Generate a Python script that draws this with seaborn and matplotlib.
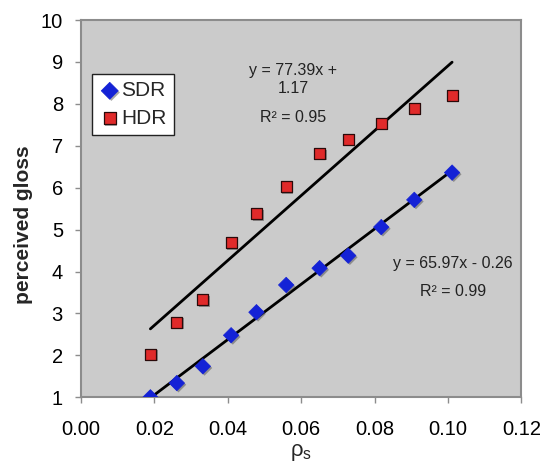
import numpy as np
import pandas as pd
import matplotlib
matplotlib.use("Agg")
import matplotlib.pyplot as plt
import matplotlib.patheffects as pe
import seaborn as sns

# Specular reflectance of the samples and the mean perceived gloss ratings
rho_s = [0.0189, 0.0261, 0.0332, 0.0409, 0.0478, 0.0559, 0.0650, 0.0728, 0.0818, 0.0908, 0.1011]
gloss_sdr = [1.00, 1.34, 1.74, 2.48, 3.03, 3.68, 4.08, 4.38, 5.06, 5.71, 6.36]
gloss_hdr = [2.03, 2.79, 3.33, 4.69, 5.38, 6.02, 6.82, 7.16, 7.54, 7.90, 8.21]

# Linear trend lines: slope, intercept, R^2
fit_sdr = (65.97, -0.26, 0.99)
fit_hdr = (77.39, 1.17, 0.95)

x_ticks = [0.00, 0.02, 0.04, 0.06, 0.08, 0.10, 0.12]
y_ticks = [1, 2, 3, 4, 5, 6, 7, 8, 9, 10]

sns.set_style("white")
plt.rcParams["font.family"] = ["Liberation Sans", "DejaVu Sans"]
plt.rcParams["mathtext.fontset"] = "custom"
plt.rcParams["mathtext.rm"] = "Liberation Sans"
plt.rcParams["mathtext.it"] = "Liberation Sans:italic"
plt.rcParams["mathtext.bf"] = "Liberation Sans:bold"

df = pd.DataFrame({
    "rho": rho_s * 2,
    "gloss": gloss_sdr + gloss_hdr,
    "display": ["SDR"] * len(rho_s) + ["HDR"] * len(rho_s),
})

fig = plt.figure(figsize=(5.44, 4.62), dpi=100)
ax = fig.add_axes([0.1489, 0.1400, 0.8097, 0.8167])
ax.set_facecolor("#cbcbcb")

shadow = [pe.SimplePatchShadow(offset=(1.2, -1.2), shadow_rgbFace="0.25", alpha=0.45), pe.Normal()]

sdr = df[df["display"] == "SDR"]
hdr = df[df["display"] == "HDR"]

# trend lines drawn over the measured range
xs = np.array([min(rho_s), max(rho_s)])
for slope, icpt, _ in (fit_hdr, fit_sdr):
    sns.lineplot(x=xs, y=slope * xs + icpt, color="black", linewidth=2.0, ax=ax, zorder=2)

sns.scatterplot(data=sdr, x="rho", y="gloss", marker="D", s=62, color="#1422d6",
                edgecolor="#1422d6", linewidth=0.5, label="SDR", ax=ax, zorder=3)
sns.scatterplot(data=hdr, x="rho", y="gloss", marker="s", s=62, color="#e02a2a",
                edgecolor="#2a0a0a", linewidth=0.9, label="HDR", ax=ax, zorder=3)
for coll in ax.collections:
    coll.set_path_effects(shadow)

ax.set_xlim(0.0, 0.12)
ax.set_ylim(1, 10)
ax.set_xticks(x_ticks)
ax.set_xticklabels([f"{v:.2f}" for v in x_ticks])
ax.set_yticks(y_ticks)
ax.set_yticklabels([str(v) for v in y_ticks])
ax.tick_params(axis="both", which="major", labelsize=14.5, colors="#8c8c8c",
               labelcolor="black", length=4.5, width=1.0, direction="out")
ax.tick_params(axis="x", pad=12)
ax.tick_params(axis="y", pad=8.5)
ax.xaxis.set_ticks_position("bottom")
ax.yaxis.set_ticks_position("left")
for sp in ax.spines.values():
    sp.set_visible(True)
    sp.set_color("#8c8c8c")
    sp.set_linewidth(1.5)

ax.set_xlabel(r"ρ$_\mathrm{s}$", fontsize=16, labelpad=2)
ax.set_ylabel("perceived gloss", fontsize=15, fontweight="bold")
ax.yaxis.set_label_coords(-0.109, 0.457)

def eq_text(fit):
    slope, icpt, _ = fit
    sign = "+" if icpt >= 0 else "-"
    return slope, icpt, sign

s, b, sg = eq_text(fit_hdr)
ax.text(0.0578, 8.58, f"y = {s:.2f}x {sg}\n{abs(b):.2f}", ha="center", va="center",
        fontsize=11.5, linespacing=1.3, color="#222222")
ax.text(0.0578, 7.68, f"R² = {fit_hdr[2]:.2f}", ha="center", va="center",
        fontsize=11.5, color="#222222")
s, b, sg = eq_text(fit_sdr)
ax.text(0.1013, 4.20, f"y = {s:.2f}x {sg} {abs(b):.2f}", ha="center", va="center",
        fontsize=11.5, color="#222222")
ax.text(0.1013, 3.53, f"R² = {fit_sdr[2]:.2f}", ha="center", va="center",
        fontsize=11.5, color="#222222")

leg = ax.legend(loc="upper left", bbox_to_anchor=(0.025, 0.857), frameon=True,
                fancybox=False, edgecolor="#222222", framealpha=1, fontsize=15,
                handletextpad=0.05, borderpad=0.35, labelspacing=0.4,
                handlelength=1.0, borderaxespad=0, markerscale=1.1)
leg.get_frame().set_linewidth(1.0)

fig.savefig("out.png", dpi=100)
